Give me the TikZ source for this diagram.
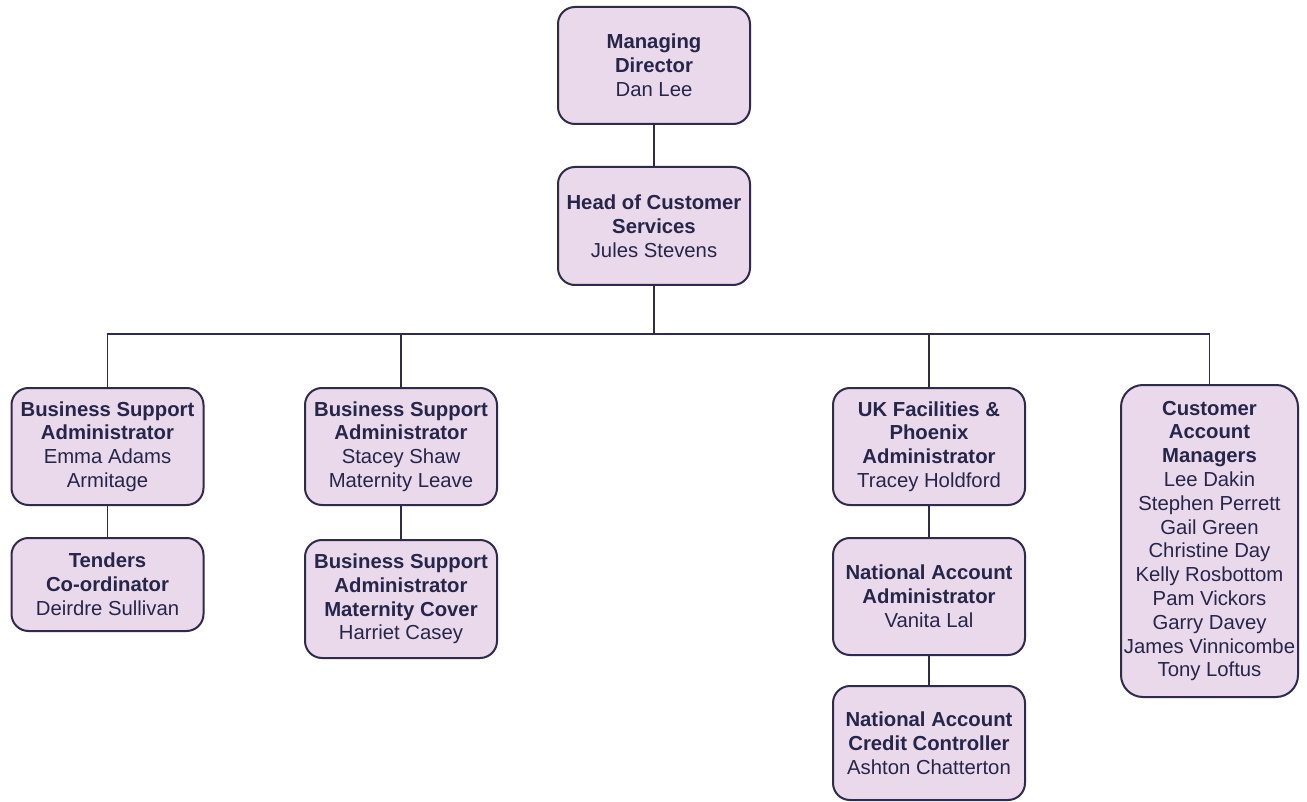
\documentclass[tikz,border=0pt]{standalone}
\usepackage{fontspec}
\setmainfont{Liberation Sans}
\definecolor{boxfill}{HTML}{E9D9EB}
\definecolor{boxline}{HTML}{2E2B4E}
\definecolor{txt}{HTML}{26254A}
\newcommand{\ttl}[1]{\textbf{#1}}
\begin{document}
\begin{tikzpicture}[x=1pt,y=-1pt,
  box/.style={draw=boxline, line width=2pt, fill=boxfill, rounded corners=17pt,
    minimum width=192pt, minimum height=117pt, align=center, text=txt,
    font=\fontsize{20.3}{23.8}\selectfont, inner sep=0pt},
  conn/.style={draw=boxline, line width=1.7pt}]
\useasboundingbox[fill=white] (0,0) rectangle (1307,802);

\node[box] (md) at (654,65.5) {\ttl{Managing}\\\ttl{Director}\\Dan Lee};
\node[box, minimum height=118pt] (hcs) at (654,226) {\ttl{Head of Customer}\\\ttl{Services}\\Jules Stevens};

\node[box] (bsa1) at (107.5,446.5) {\ttl{Business Support}\\\ttl{Administrator}\\Emma Adams\\Armitage};
\node[box, minimum height=93pt] (ten) at (107.5,584.5) {\ttl{Tenders}\\\ttl{Co-ordinator}\\Deirdre Sullivan};

\node[box] (bsa2) at (401,446.5) {\ttl{Business Support}\\\ttl{Administrator}\\Stacey Shaw\\Maternity Leave};
\node[box, minimum height=118pt] (bsamc) at (401,599) {\ttl{Business Support}\\\ttl{Administrator}\\\ttl{Maternity Cover}\\Harriet Casey};

\node[box] (uk) at (929,446.5) {\ttl{UK Facilities \&}\\\ttl{Phoenix}\\\ttl{Administrator}\\Tracey Holdford};
\node[box] (naa) at (929,596.5) {\ttl{National Account}\\\ttl{Administrator}\\Vanita Lal};
\node[box, minimum height=114pt] (nacc) at (929,743) {\ttl{National Account}\\\ttl{Credit Controller}\\Ashton Chatterton};

\node[box, minimum width=177pt, minimum height=312pt, rounded corners=22pt] (cam) at (1209.5,541)
  {\ttl{Customer}\\\ttl{Account}\\\ttl{Managers}\\Lee Dakin\\Stephen Perrett\\Gail Green\\Christine Day\\Kelly Rosbottom\\Pam Vickors\\Garry Davey\\James Vinnicombe\\Tony Loftus};

\coordinate (bus) at (654,334);

\draw[conn] (md) -- (hcs);
\draw[conn] (hcs.south) -- (bus);
\draw[conn] (bus) -| (bsa1.north);
\draw[conn] (bus) -| (bsa2.north);
\draw[conn] (bus) -| (uk.north);
\draw[conn] (bus) -| (cam.north);
\draw[conn] (bsa1) -- (ten);
\draw[conn] (bsa2) -- (bsamc);
\draw[conn] (uk) -- (naa);
\draw[conn] (naa) -- (nacc);
\end{tikzpicture}
\end{document}
